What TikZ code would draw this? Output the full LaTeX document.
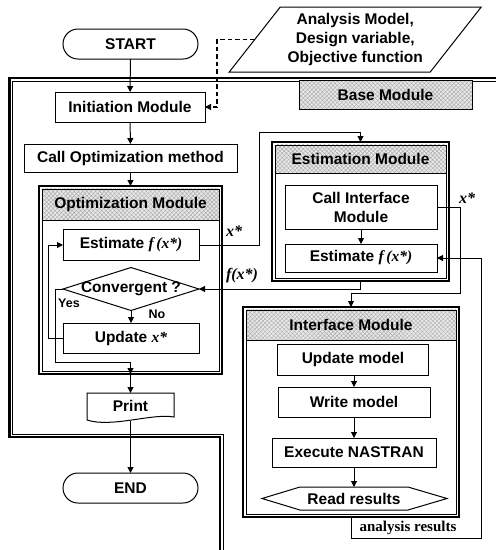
\documentclass[tikz,border=0pt]{standalone}
\usepackage{fontspec}
\setmainfont{Liberation Sans}
\newfontfamily\serifbold{Liberation Serif}
\usetikzlibrary{arrows.meta,patterns.meta,calc}
\newcommand\boxfont{\fontsize{15.5}{19}\selectfont\bfseries}
\newcommand\tagfont{\fontsize{12.5}{14}\selectfont\bfseries}
\newcommand\mvar[1]{{\serifbold\bfseries\itshape #1}}
\begin{document}
\begin{tikzpicture}[x=1pt,y=-1pt,line width=1pt,
  box/.style={draw, fill=white, font=\boxfont, inner sep=0pt, outer sep=0pt, align=center},
  term/.style={box, rounded corners=15pt, minimum width=135pt, minimum height=30pt},
  bare/.style={font=\boxfont, inner sep=0pt, outer sep=0pt, align=center},
  arr/.style={-{Triangle[length=6pt,width=6pt]}},
  modframe/.style={draw, line width=2.4pt, inner sep=0pt, outer sep=0pt},
  innerline/.style={line width=0.6pt},
  hatch/.style={preaction={fill=gray!18}, pattern={Hatch[angle=45,distance=3pt,line width=0.45pt]}, pattern color=gray!65},
  mlabel/.style={font=\fontsize{16}{18}\selectfont, inner sep=0pt},
]
\useasboundingbox (0,0) rectangle (496,550);

% ---- base module frame (thick outer line, thin inner line)
\draw[line width=2.4pt] (497,78) -- (9.5,78) -- (9.5,437) -- (220,437) -- (220,551);
\draw[innerline] (497,81.2) -- (12.7,81.2) -- (12.7,433.8) -- (223.2,433.8) -- (223.2,551);
\node[box, hatch, minimum width=173pt, minimum height=29pt] (base) at (385.5,94.5) {Base Module};

% ---- start / input data
\node[term] (start) at (130.5,44) {START};
\node[bare, minimum width=201pt, minimum height=65pt] (data) at (355.25,39.5)
  {Analysis Model,\\Design variable,\\Objective function};
\draw ($(data.north west)+(25.5,0)$) -- ($(data.north east)+(25.5,0)$)
  -- ($(data.south east)+(-25.5,0)$) -- ($(data.south west)+(-25.5,0)$) -- cycle;

\node[box, minimum width=150pt, minimum height=30pt] (init) at (130,107) {Initiation Module};
\node[box, minimum width=213pt, minimum height=28pt] (callopt) at (130.5,158) {Call Optimization method};

% ---- optimization module
\node[modframe, minimum width=183pt, minimum height=188pt] (optmod) at (130.5,280) {};
\fill[hatch] ($(optmod.north west)+(2.8,2.8)$) rectangle ($(optmod.north east)+(-2.8,34)$);
\draw[innerline] ($(optmod.north west)+(2.8,2.8)$) rectangle ($(optmod.south east)+(-2.8,-2.8)$);
\draw[innerline] ($(optmod.north west)+(2.8,34)$) -- ($(optmod.north east)+(-2.8,34)$);
\node[bare] (opthead) at (130.5,204) {Optimization Module};

\node[box, minimum width=136pt, minimum height=31pt] (est1) at (131,245) {Estimate \mvar{f\,(x*)}};
\node[bare, minimum width=136pt, minimum height=43pt] (conv) at (131,289) {};
\draw[fill=white] (conv.west) -- (conv.north) -- (conv.east) -- (conv.south) -- cycle;
\node[bare] at (131,289) {Convergent ?};
\node[box, minimum width=136pt, minimum height=30pt] (upd) at (131,338) {Update \mvar{x*}};

% ---- print / end
\node[bare, minimum width=87pt, minimum height=26pt] (print) at (130.5,406) {};
\draw[fill=white] (print.north west) -- (print.north east) -- ($(print.south east)+(0,-2)$)
  .. controls (152,413) and (112,428) .. ($(print.south west)+(0,1)$) -- cycle;
\node[bare] at (130.5,406) {Print};
\coordinate (printB) at (130.5,421);
\node[term] (end) at (130.5,488) {END};

% ---- estimation module
\node[modframe, minimum width=177pt, minimum height=139pt] (estmod) at (360.5,211.5) {};
\fill[hatch] ($(estmod.north west)+(2.8,2.8)$) rectangle ($(estmod.north east)+(-2.8,31)$);
\draw[innerline] ($(estmod.north west)+(2.8,2.8)$) rectangle ($(estmod.south east)+(-2.8,-2.8)$);
\draw[innerline] ($(estmod.north west)+(2.8,31)$) -- ($(estmod.north east)+(-2.8,31)$);
\node[bare] (esthead) at (360.5,158.5) {Estimation Module};
\node[box, minimum width=152pt, minimum height=44pt] (callif) at (361,207) {Call Interface\\Module};
\node[box, minimum width=152pt, minimum height=28pt] (est2) at (361,258) {Estimate \mvar{f\,(x*)}};

% ---- interface module
\node[modframe, minimum width=216pt, minimum height=210pt] (ifmod) at (351,412) {};
\fill[hatch] ($(ifmod.north west)+(2.8,2.8)$) rectangle ($(ifmod.north east)+(-2.8,33)$);
\draw[innerline] ($(ifmod.north west)+(2.8,2.8)$) rectangle ($(ifmod.south east)+(-2.8,-2.8)$);
\draw[innerline] ($(ifmod.north west)+(2.8,33)$) -- ($(ifmod.north east)+(-2.8,33)$);
\node[bare] (ifhead) at (351,325) {Interface Module};
\node[box, minimum width=151pt, minimum height=31pt] (updm) at (353,359.5) {Update model};
\node[box, minimum width=152pt, minimum height=30pt] (writem) at (354,402) {Write model};
\node[box, minimum width=164pt, minimum height=29pt] (exec) at (354,452.5) {Execute NASTRAN};
\node[bare, minimum width=108pt, minimum height=23pt] (read) at (354,498.5) {};
\draw[fill=white] (read.north west) -- (read.north east) -- ($(read.east)+(39,0)$)
  -- (read.south east) -- (read.south west) -- ($(read.west)+(-38,0)$) -- cycle;
\node[bare] at (354,498.5) {Read results};

% ---- connectors
\coordinate (dj) at (217,39.5);
\draw[arr, line width=1.2pt, dash pattern=on 4.5pt off 3pt] (data.west) -- (dj) |- (init.east);
\draw[arr] (start) -- (init);
\draw[arr] (init) -- (callopt);
\draw[arr] (callopt.south) -- (optmod.north);
\coordinate (j1) at (259,132);
\draw[arr] (est1.east) -| (j1) -| (estmod.north);
\draw[arr] (estmod.south) |- (conv.east);
\draw[arr] (conv.south) -- (upd.north);
\draw[arr] (upd.west) -- ++(-15,0) |- (est1.west);
\draw[arr] (conv.west) -- ++(-8,0) -- ++(0,73) -| (optmod.south);
\draw[arr] (optmod.south) -- (print.north);
\draw[arr] (printB) -- (end.north);
\draw[arr] (callif.east) -- ++(23,0) |- ($(ifmod.north)+(0,-14)$) -- (ifmod.north);
\draw[arr] (callif.south) -- (est2.north);
\coordinate (j2) at (481,538);
\draw[arr] (ifmod.south) |- (j2) |- (est2.east);
\draw[arr] (updm.south -| writem.north) -- (writem.north);
\draw[arr] (writem.south) -- (exec.north);
\draw[arr] (exec.south) -- (read.north);

% ---- connector labels
\node[font=\tagfont, inner sep=0pt] at (69,303) {Yes};
\node[font=\tagfont, inner sep=0pt] at (157,314) {No};
\node[mlabel] at (234,231) {\mvar{x*}};
\node[mlabel] at (242,276) {\mvar{f(x*)}};
\node[mlabel] at (467,198) {\mvar{x*}};
\node[font=\fontsize{15}{17}\selectfont\serifbold\bfseries, inner sep=0pt] at (408,528) {analysis results};
\end{tikzpicture}
\end{document}
